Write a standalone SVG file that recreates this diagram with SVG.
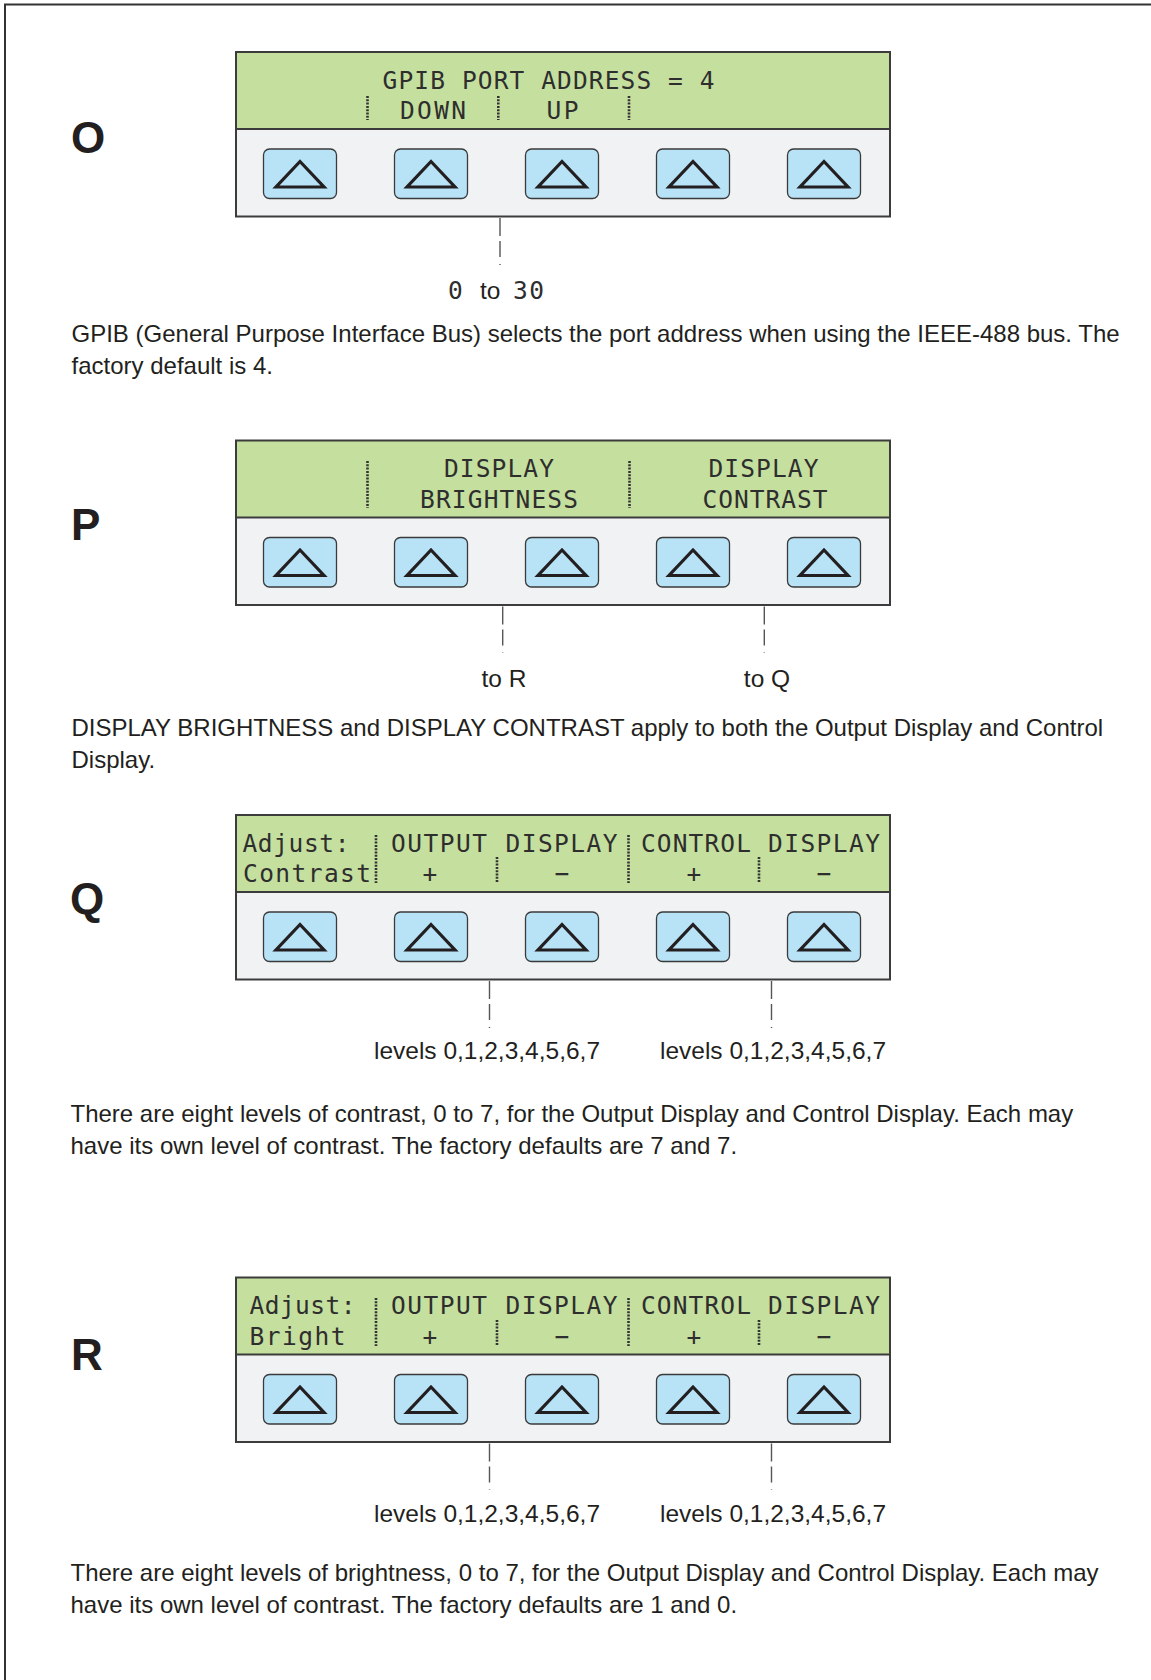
<svg xmlns="http://www.w3.org/2000/svg" xmlns:xlink="http://www.w3.org/1999/xlink" width="1151" height="1680" viewBox="0 0 1151 1680">
<style>
.frame{fill:none;stroke:#333;stroke-width:2}
.lcd{fill:#c5df9e}
.pad{fill:#f1f2f3}
.pbox{fill:none;stroke:#3c3c3c;stroke-width:2}
.btn{fill:#b8e3f7;stroke:#3a3a3a;stroke-width:1.3}
.tri{fill:none;stroke:#231f20;stroke-width:3.2;stroke-linejoin:miter}
.lt{font-family:"DejaVu Sans Mono","Liberation Mono",monospace;font-size:24.5px;fill:#2e2e2e}
.sep{stroke:#333;stroke-width:2.6;stroke-dasharray:2 1.3}
.conn{stroke:#555;stroke-width:1.4;stroke-dasharray:18 5 16 7}
.txt{font-family:"Liberation Sans",Arial,sans-serif;font-size:24px;fill:#231f20}
.lbl{font-family:"Liberation Sans",Arial,sans-serif;font-size:24.5px;fill:#231f20}
.big{font-family:"Liberation Sans",Arial,sans-serif;font-size:44px;font-weight:bold;fill:#231f20}
</style>
<defs>
<g id="btn">
<rect class="btn" x="-36.5" y="0" width="73" height="49.5" rx="6"/>
<path class="tri" d="M0,12.5 L24,38 L-24,38 Z"/>
</g>
<g id="panel">
<rect class="lcd" x="236" y="0" width="654" height="77"/>
<rect class="pad" x="236" y="77" width="654" height="87.5"/>
<rect class="pbox" x="236" y="0" width="654" height="164.5"/>
<line class="pbox" x1="236" y1="77" x2="890" y2="77"/>
<use xlink:href="#btn" x="300" y="97"/>
<use xlink:href="#btn" x="431" y="97"/>
<use xlink:href="#btn" x="562" y="97"/>
<use xlink:href="#btn" x="693" y="97"/>
<use xlink:href="#btn" x="824" y="97"/>
</g>
</defs>
<rect width="1151" height="1680" fill="#fff"/>
<path class="frame" d="M5,1680 V4.5 H1151"/>

<g id="node-O">
<text class="big" x="71" y="153">O</text>
<use xlink:href="#panel" y="52"/>
<text class="lt" x="382.6" y="88.5" textLength="332" lengthAdjust="spacing">GPIB PORT ADDRESS = 4</text>
<text class="lt" x="400" y="119" textLength="66" lengthAdjust="spacing">DOWN</text>
<text class="lt" x="546.5" y="119" textLength="32" lengthAdjust="spacing">UP</text>
<line class="sep" x1="367.5" y1="96" x2="367.5" y2="120"/>
<line class="sep" x1="498.3" y1="96" x2="498.3" y2="120"/>
<line class="sep" x1="629" y1="96" x2="629" y2="120"/>
</g>

<g id="node-P">
<text class="big" x="71" y="540">P</text>
<use xlink:href="#panel" y="440.5"/>
<text class="lt" x="444" y="477" textLength="110" lengthAdjust="spacing">DISPLAY</text>
<text class="lt" x="420" y="507.5" textLength="158" lengthAdjust="spacing">BRIGHTNESS</text>
<text class="lt" x="708.5" y="477" textLength="110" lengthAdjust="spacing">DISPLAY</text>
<text class="lt" x="702.5" y="507.5" textLength="125" lengthAdjust="spacing">CONTRAST</text>
<line class="sep" x1="367.5" y1="461" x2="367.5" y2="508"/>
<line class="sep" x1="629.5" y1="461" x2="629.5" y2="508"/>
</g>

<g id="node-Q">
<text class="big" x="70" y="914">Q</text>
<use xlink:href="#panel" y="815"/>
<text class="lt" x="242.5" y="851.5" textLength="107" lengthAdjust="spacing">Adjust:</text>
<text class="lt" x="243" y="882" textLength="128" lengthAdjust="spacing">Contrast</text>
<text class="lt" x="391" y="851.5" textLength="96" lengthAdjust="spacing">OUTPUT</text>
<text class="lt" x="505.5" y="851.5" textLength="112" lengthAdjust="spacing">DISPLAY</text>
<text class="lt" x="641" y="851.5" textLength="110" lengthAdjust="spacing">CONTROL</text>
<text class="lt" x="768" y="851.5" textLength="112" lengthAdjust="spacing">DISPLAY</text>
<text class="lt" x="430" y="882" text-anchor="middle">+</text>
<text class="lt" x="562" y="882" text-anchor="middle">−</text>
<text class="lt" x="694" y="882" text-anchor="middle">+</text>
<text class="lt" x="824" y="882" text-anchor="middle">−</text>
<line class="sep" x1="376" y1="835" x2="376" y2="883"/>
<line class="sep" x1="628.5" y1="835" x2="628.5" y2="883"/>
<line class="sep" x1="497" y1="857" x2="497" y2="883"/>
<line class="sep" x1="759" y1="857" x2="759" y2="883"/>
</g>

<g id="node-R">
<text class="big" x="71" y="1369.5">R</text>
<use xlink:href="#panel" y="1277.5"/>
<text class="lt" x="249.5" y="1314" textLength="106" lengthAdjust="spacing">Adjust:</text>
<text class="lt" x="249.5" y="1344.5" textLength="96" lengthAdjust="spacing">Bright</text>
<text class="lt" x="391" y="1314" textLength="96" lengthAdjust="spacing">OUTPUT</text>
<text class="lt" x="505.5" y="1314" textLength="112" lengthAdjust="spacing">DISPLAY</text>
<text class="lt" x="641" y="1314" textLength="110" lengthAdjust="spacing">CONTROL</text>
<text class="lt" x="768" y="1314" textLength="112" lengthAdjust="spacing">DISPLAY</text>
<text class="lt" x="430" y="1344.5" text-anchor="middle">+</text>
<text class="lt" x="562" y="1344.5" text-anchor="middle">−</text>
<text class="lt" x="694" y="1344.5" text-anchor="middle">+</text>
<text class="lt" x="824" y="1344.5" text-anchor="middle">−</text>
<line class="sep" x1="376" y1="1298" x2="376" y2="1346"/>
<line class="sep" x1="628.5" y1="1298" x2="628.5" y2="1346"/>
<line class="sep" x1="497" y1="1320" x2="497" y2="1346"/>
<line class="sep" x1="759" y1="1320" x2="759" y2="1346"/>
</g>

<g id="connectors">
<line class="conn" x1="500" y1="218" x2="500" y2="265"/>
<line class="conn" x1="502.7" y1="606.5" x2="502.7" y2="653"/>
<line class="conn" x1="764.3" y1="606.5" x2="764.3" y2="653"/>
<line class="conn" x1="489.5" y1="981" x2="489.5" y2="1028"/>
<line class="conn" x1="771.5" y1="981" x2="771.5" y2="1028"/>
<line class="conn" x1="489.5" y1="1443.5" x2="489.5" y2="1490"/>
<line class="conn" x1="771.5" y1="1443.5" x2="771.5" y2="1490"/>
</g>

<g id="labels">
<text class="lt" x="448" y="299">0</text>
<text class="lbl" x="480" y="299">to</text>
<text class="lt" x="513" y="299" textLength="31" lengthAdjust="spacing">30</text>
<text class="lbl" x="504" y="687" text-anchor="middle">to R</text>
<text class="lbl" x="767" y="687" text-anchor="middle">to Q</text>
<text class="lbl" x="487" y="1059" text-anchor="middle">levels 0,1,2,3,4,5,6,7</text>
<text class="lbl" x="773" y="1059" text-anchor="middle">levels 0,1,2,3,4,5,6,7</text>
<text class="lbl" x="487" y="1522" text-anchor="middle">levels 0,1,2,3,4,5,6,7</text>
<text class="lbl" x="773" y="1522" text-anchor="middle">levels 0,1,2,3,4,5,6,7</text>
</g>

<g id="paragraphs">
<text class="txt" x="71.5" y="342">GPIB (General Purpose Interface Bus) selects the port address when using the IEEE-488 bus. The</text>
<text class="txt" x="71.5" y="374">factory default is 4.</text>
<text class="txt" x="71.5" y="736">DISPLAY BRIGHTNESS and DISPLAY CONTRAST apply to both the Output Display and Control</text>
<text class="txt" x="71.5" y="768">Display.</text>
<text class="txt" x="70.5" y="1122">There are eight levels of contrast, 0 to 7, for the Output Display and Control Display. Each may</text>
<text class="txt" x="70.5" y="1154">have its own level of contrast. The factory defaults are 7 and 7.</text>
<text class="txt" x="70.5" y="1581">There are eight levels of brightness, 0 to 7, for the Output Display and Control Display. Each may</text>
<text class="txt" x="70.5" y="1613">have its own level of contrast. The factory defaults are 1 and 0.</text>
</g>
</svg>
